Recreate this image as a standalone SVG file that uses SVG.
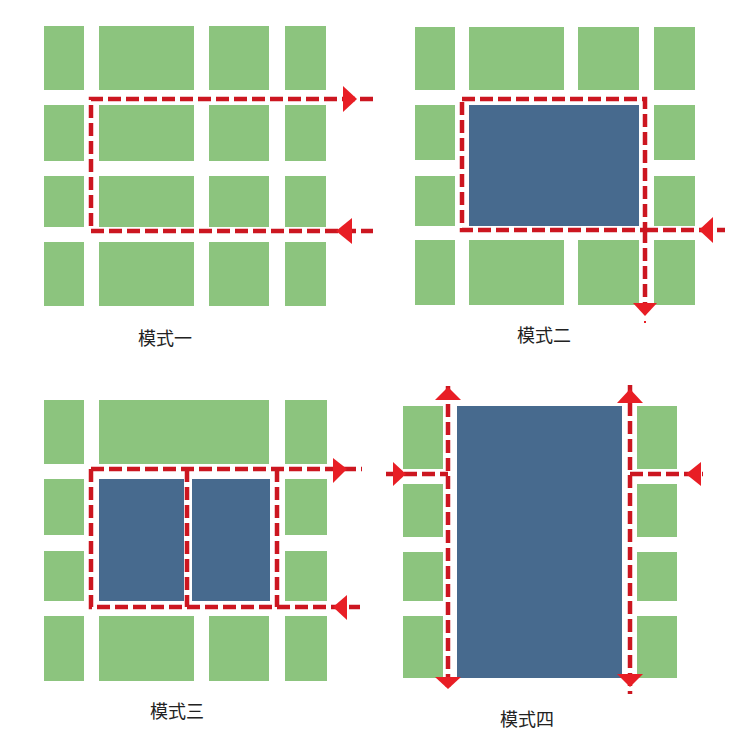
<svg xmlns="http://www.w3.org/2000/svg" width="746" height="743" viewBox="0 0 746 743">
<style>
.g{fill:#8CC47E}
.b{fill:#476A8E}
.r{fill:none;stroke:#CC1620;stroke-width:4.5;stroke-dasharray:13 5}
.a{fill:#E81E25}
.t{font-family:"Noto Sans CJK SC","Noto Sans",sans-serif;font-size:18px;fill:#222}
</style>
<rect width="746" height="743" fill="#fff"/>
<g id="panel1">
<rect class="g" x="44" y="26" width="40" height="64"/>
<rect class="g" x="99" y="26" width="95" height="64"/>
<rect class="g" x="209" y="26" width="60" height="64"/>
<rect class="g" x="285" y="26" width="41" height="64"/>
<rect class="g" x="44" y="105" width="40" height="56"/>
<rect class="g" x="99" y="105" width="95" height="56"/>
<rect class="g" x="209" y="105" width="60" height="56"/>
<rect class="g" x="285" y="105" width="41" height="56"/>
<rect class="g" x="44" y="176" width="40" height="51"/>
<rect class="g" x="99" y="176" width="95" height="51"/>
<rect class="g" x="209" y="176" width="60" height="51"/>
<rect class="g" x="285" y="176" width="41" height="51"/>
<rect class="g" x="44" y="242" width="40" height="64"/>
<rect class="g" x="99" y="242" width="95" height="64"/>
<rect class="g" x="209" y="242" width="60" height="64"/>
<rect class="g" x="285" y="242" width="41" height="64"/>
<text class="t" x="138" y="345">模式一</text>
</g>
<g id="panel2">
<rect class="g" x="415" y="27" width="40" height="63"/>
<rect class="g" x="469" y="27" width="95" height="63"/>
<rect class="g" x="578" y="27" width="61" height="63"/>
<rect class="g" x="654" y="27" width="41" height="63"/>
<rect class="g" x="415" y="105" width="40" height="55"/>
<rect class="g" x="654" y="105" width="41" height="55"/>
<rect class="g" x="415" y="176" width="40" height="50"/>
<rect class="g" x="654" y="176" width="41" height="50"/>
<rect class="g" x="415" y="240" width="40" height="65"/>
<rect class="g" x="469" y="240" width="95" height="65"/>
<rect class="g" x="578" y="240" width="61" height="65"/>
<rect class="g" x="654" y="240" width="41" height="65"/>
<rect class="b" x="469" y="105" width="170" height="121"/>
<text class="t" x="517" y="342">模式二</text>
</g>
<g id="panel3">
<rect class="g" x="44" y="400" width="40" height="64"/>
<rect class="g" x="99" y="400" width="170" height="64"/>
<rect class="g" x="285" y="400" width="42" height="64"/>
<rect class="g" x="44" y="479" width="40" height="56"/>
<rect class="g" x="285" y="479" width="42" height="56"/>
<rect class="g" x="44" y="551" width="40" height="50"/>
<rect class="g" x="285" y="551" width="42" height="50"/>
<rect class="g" x="44" y="616" width="40" height="65"/>
<rect class="g" x="99" y="616" width="95" height="65"/>
<rect class="g" x="209" y="616" width="60" height="65"/>
<rect class="g" x="285" y="616" width="42" height="65"/>
<rect class="b" x="99" y="479" width="85" height="122"/>
<rect class="b" x="192" y="479" width="78" height="122"/>
<text class="t" x="150" y="718">模式三</text>
</g>
<g id="panel4">
<rect class="g" x="403" y="406" width="40" height="63"/>
<rect class="g" x="403" y="484" width="40" height="53"/>
<rect class="g" x="403" y="552" width="40" height="49"/>
<rect class="g" x="403" y="616" width="40" height="62"/>
<rect class="g" x="637" y="406" width="40" height="63"/>
<rect class="g" x="637" y="484" width="40" height="53"/>
<rect class="g" x="637" y="552" width="40" height="49"/>
<rect class="g" x="637" y="616" width="40" height="62"/>
<rect class="b" x="457" y="406" width="165" height="272"/>
<text class="t" x="500" y="726">模式四</text>
</g>
<g id="connectors">
<path class="r" d="M373,99 H91 V231 H373"/>
<polygon class="a" points="343,86 357,99 343,112"/>
<polygon class="a" points="336,231 352,218 352,244"/>
<path class="r" d="M462,99 H645 V230 H462 Z"/>
<path class="r" d="M645,230 H725 M645,230 V312"/>
<rect class="a" x="644" y="321" width="2" height="2"/>
<polygon class="a" points="699,230 713,217 713,243"/>
<polygon class="a" points="633,303 657,303 645,316"/>
<path class="r" d="M91,469 H362 M91,469 V607 H360 M187,469 V607 M277,469 V607"/>
<polygon class="a" points="333,458 347,469 333,483"/>
<polygon class="a" points="333,607 347,595 347,620"/>
<path class="r" d="M448,386 V692 M386,474 H448"/>
<polygon class="a" points="435,400 461,400 448,387"/>
<polygon class="a" points="435,677 461,677 448,689"/>
<polygon class="a" points="393,462 406,474 393,486"/>
<path class="r" d="M630,385 V694 M630,474 H703"/>
<polygon class="a" points="617,403 643,403 630,389"/>
<polygon class="a" points="617,674 643,674 630,687"/>
<polygon class="a" points="686,474 701,462 701,486"/>
</g>
</svg>
